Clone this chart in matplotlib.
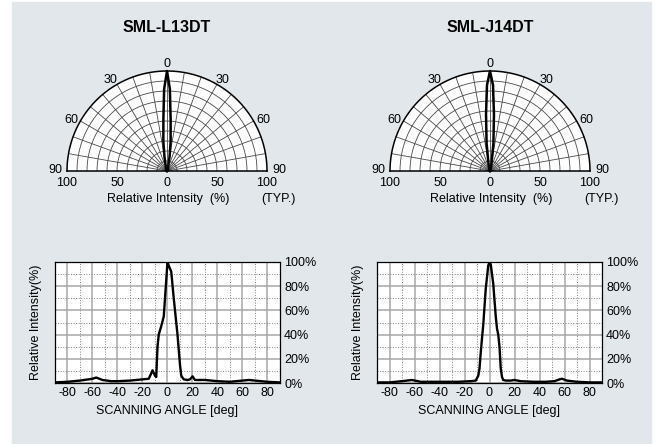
import numpy as np
import matplotlib.pyplot as plt
from matplotlib.patches import Rectangle
from matplotlib.ticker import MultipleLocator, FuncFormatter

plt.rcParams['font.family'] = ['Liberation Sans', 'DejaVu Sans']
plt.rcParams['axes.unicode_minus'] = False

models = ["SML-L13DT", "SML-J14DT"]

# directivity pattern (polar), angle in deg, relative intensity in %
polar_angle = [-90, -30, -15, -10, -7, -4, -2, 0, 2, 4, 7, 10, 15, 30, 90]
polar_l13 = [0, 2, 5, 15, 30, 52, 82, 100, 82, 52, 30, 15, 5, 2, 0]
polar_j14 = [0, 1, 4, 10, 28, 57, 86, 100, 86, 57, 28, 10, 4, 1, 0]

# scanning angle curves
scan_l13_angle = [-90, -80, -70, -60, -57, -52, -45, -40, -30, -20, -15, -13, -12, -10, -9, -8, -7,
                  -5, -3, -1, 0, 1, 3, 5, 6, 8, 10, 11, 13, 16, 18, 20, 22, 26, 30, 40, 50, 60,
                  65, 70, 80, 90]
scan_l13 = [0.5, 1, 2, 3.5, 4.5, 2.5, 1.5, 1.5, 2, 3, 3.5, 8, 10.5, 6, 5, 30, 40,
            47, 55, 85, 100, 97, 92, 70, 60, 40, 15, 6, 3, 2.5, 3, 5.5, 2.5, 2.5, 2.5, 1.5, 1, 2,
            2.5, 2, 1, 0.5]

scan_j14_angle = [-90, -80, -70, -62, -55, -45, -35, -25, -15, -11, -9, -8, -7, -6, -5, -3, -1, 0,
                  1, 3, 5, 6, 7, 8, 9, 10, 11, 13, 17, 20, 25, 35, 45, 52, 56, 58, 62, 70, 80, 90]
scan_j14 = [0.5, 0.5, 1.5, 2.5, 1, 1, 1, 1, 1.5, 2, 6, 12, 25, 37, 48, 78, 97, 100,
            98, 82, 55, 45, 40, 30, 12, 5, 2.5, 2, 2, 2.5, 1.5, 1, 1, 1.5, 3, 3.5, 2, 1, 0.5, 0.5]

W, H = 658, 444
FS = 9
fig = plt.figure(figsize=(W / 100, H / 100), dpi=100)
fig.patches.append(Rectangle((12 / W, 0), 639 / W, 442 / H, transform=fig.transFigure,
                             color='#e2e7eb', zorder=-1))


def px(x0, y0, x1, y1):
    return [x0 / W, 1 - y1 / H, (x1 - x0) / W, (y1 - y0) / H]


def draw_polar(cx, title, ang, val):
    ax = fig.add_axes(px(cx - 100, 71, cx + 100, 171))
    ax.set_xlim(-100, 100)
    ax.set_ylim(0, 100)
    ax.axis('off')
    t = np.radians(np.linspace(-90, 90, 361))
    ax.fill(100 * np.sin(t), 100 * np.cos(t), color='white', zorder=0)
    for r in range(10, 100, 10):
        ax.plot(r * np.sin(t), r * np.cos(t), color='#4a4a4a', lw=0.6, clip_on=False)
    for a in range(-80, 90, 10):
        ar = np.radians(a)
        ax.plot([0, 100 * np.sin(ar)], [0, 100 * np.cos(ar)], color='#4a4a4a', lw=0.6, clip_on=False)
    ax.plot(100 * np.sin(t), 100 * np.cos(t), color='black', lw=1.1, clip_on=False)
    ax.plot([-100, 100], [0, 0], color='black', lw=1.1, clip_on=False)
    a = np.radians(ang)
    v = np.array(val)
    ax.plot(v * np.sin(a), v * np.cos(a), color='black', lw=1.8, clip_on=False, zorder=5)

    ax.text(0, 107, "0", ha='center', va='center', fontsize=FS)
    for s in (-1, 1):
        ax.text(s * 56, 91, "30", ha='center', va='center', fontsize=FS)
        ax.text(s * 96, 51, "60", ha='center', va='center', fontsize=FS)
        ax.text(s * 112, 1, "90", ha='center', va='center', fontsize=FS)
    for x in (-100, -50, 0, 50, 100):
        ax.text(x, -12, f"{abs(x)}", ha='center', va='center', fontsize=FS)
    ax.text(1, -28, "Relative Intensity  (%)", ha='center', va='center', fontsize=FS)
    ax.text(111, -28, "(TYP.)", ha='center', va='center', fontsize=FS)
    fig.text(cx / W, 1 - 28 / H, title, ha='center', va='center', fontsize=11.5, fontweight='bold')


def draw_scan(x0, angles, vals):
    ax = fig.add_axes(px(x0, 262, x0 + 225, 383))
    ax.set_facecolor('white')
    ax.plot(angles, vals, color='black', lw=1.7, zorder=5)
    ax.set_xlim(-90, 90)
    ax.set_ylim(0, 100)
    ax.xaxis.set_major_locator(MultipleLocator(20))
    ax.xaxis.set_minor_locator(MultipleLocator(10))
    ax.yaxis.set_major_locator(MultipleLocator(20))
    ax.yaxis.set_minor_locator(MultipleLocator(10))
    ax.yaxis.tick_right()
    ax.yaxis.set_major_formatter(FuncFormatter(lambda v, p: f"{v:.0f}%"))
    ax.grid(which='major', color='#a8a8a8', lw=1.1)
    ax.grid(which='minor', color='#808080', ls=':', lw=0.7)
    ax.tick_params(which='both', length=0, labelsize=FS, pad=3)
    for sp in ax.spines.values():
        sp.set_color('black')
        sp.set_linewidth(0.9)
    ax.set_xlabel("SCANNING ANGLE [deg]", fontsize=FS, labelpad=4)
    ax.yaxis.set_label_position('left')
    ax.set_ylabel("Relative Intensity(%)", fontsize=FS, labelpad=9)


draw_polar(167, models[0], polar_angle, polar_l13)
draw_polar(490, models[1], polar_angle, polar_j14)
draw_scan(55, scan_l13_angle, scan_l13)
draw_scan(377, scan_j14_angle, scan_j14)

fig.savefig("out.png", dpi=100, facecolor='white')
